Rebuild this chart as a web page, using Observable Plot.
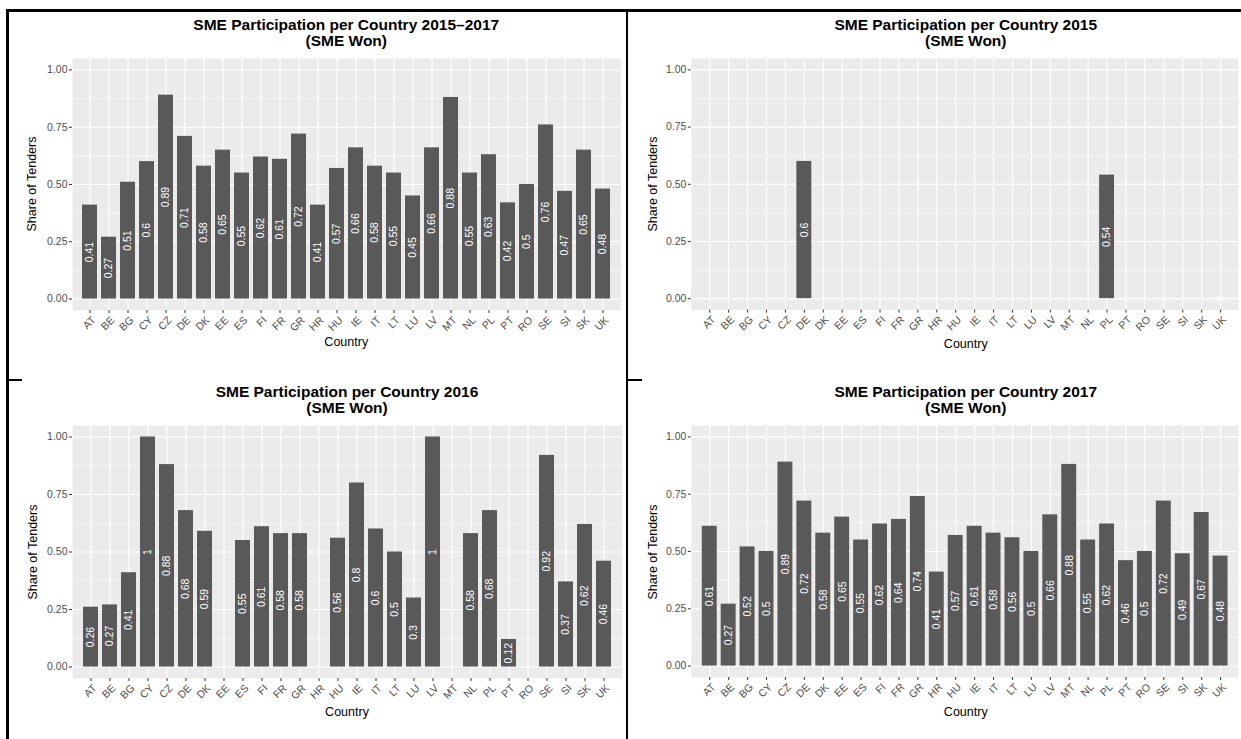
<!DOCTYPE html>
<html>
<head>
<meta charset="utf-8">
<script src="https://cdn.jsdelivr.net/npm/d3@7"></script>
<script src="https://cdn.jsdelivr.net/npm/@observablehq/plot@0.6"></script>
<style>
html, body { margin: 0; padding: 0; background: #fff; }
#root { position: relative; width: 1241px; height: 739px; overflow: hidden;
  font-family: "Liberation Sans", Arial, Helvetica, sans-serif; }
.title { position: absolute; width: 600px; font-weight: bold; font-size: 15.5px; line-height: 16px;
  text-align: center; color: #000; white-space: nowrap; }
.xt { position: absolute; width: 200px; font-size: 12.5px; line-height: 14px; text-align: center; color: #000; white-space: nowrap; }
.yt { position: absolute; width: 200px; height: 14px; font-size: 12.5px; line-height: 14px; text-align: center;
  color: #000; white-space: nowrap; transform: rotate(-90deg); transform-origin: 50% 50%; }
.ln { position: absolute; background: #000; }
.pan { position: absolute; }
</style>
</head>
<body>
<div id="root"></div>
<script>
// ---------------- data ----------------
const countries = ["AT","BE","BG","CY","CZ","DE","DK","EE","ES","FI","FR","GR","HR","HU","IE","IT","LT","LU","LV","MT","NL","PL","PT","RO","SE","SI","SK","UK"];

const share2015_2017 = [0.41,0.27,0.51,0.60,0.89,0.71,0.58,0.65,0.55,0.62,0.61,0.72,0.41,0.57,0.66,0.58,0.55,0.45,0.66,0.88,0.55,0.63,0.42,0.50,0.76,0.47,0.65,0.48];
const share2015 = [null,null,null,null,null,0.60,null,null,null,null,null,null,null,null,null,null,null,null,null,null,null,0.54,null,null,null,null,null,0];
const share2016 = [0.26,0.27,0.41,1,0.88,0.68,0.59,null,0.55,0.61,0.58,0.58,null,0.56,0.80,0.60,0.50,0.30,1,null,0.58,0.68,0.12,null,0.92,0.37,0.62,0.46];
const share2017 = [0.61,0.27,0.52,0.50,0.89,0.72,0.58,0.65,0.55,0.62,0.64,0.74,0.41,0.57,0.61,0.58,0.56,0.50,0.66,0.88,0.55,0.62,0.46,0.50,0.72,0.49,0.67,0.48];

const titles = [
  ["SME Participation per Country 2015\u20132017", "(SME Won)"],
  ["SME Participation per Country 2015", "(SME Won)"],
  ["SME Participation per Country 2016", "(SME Won)"],
  ["SME Participation per Country 2017", "(SME Won)"]
];
const xTitle = "Country";
const yTitle = "Share of Tenders";
const yTicks = [0, 0.25, 0.5, 0.75, 1];
const yMinor = [0.125, 0.375, 0.625, 0.875];

// ---------------- layout ----------------
const root = document.getElementById("root");
const panels = [
  {t: titles[0], values: share2015_2017, gx0: 72,  gx1: 620.5,  gy0: 57.5,  gy1: 309.5, t1: 30.5, xLabY: 343,   yLabX: 32},
  {t: titles[1], values: share2015,      gx0: 691, gx1: 1240.5, gy0: 57.8,  gy1: 310.5, t1: 30,   xLabY: 345,   yLabX: 653},
  {t: titles[2], values: share2016,      gx0: 72,  gx1: 622,    gy0: 425.2, gy1: 678.2, t1: 397,  xLabY: 712.5, yLabX: 33},
  {t: titles[3], values: share2017,      gx0: 691, gx1: 1240.5, gy0: 425.2, gy1: 678.3, t1: 397,  xLabY: 712.5, yLabX: 653}
];

function fmt(v) { return String(+v.toFixed(2)); }

function addDiv(cls, text, styles) {
  const d = document.createElement("div");
  d.className = cls;
  if (text != null) d.textContent = text;
  Object.assign(d.style, styles);
  root.appendChild(d);
  return d;
}

const ml = 45, mr = 3, mt = 8, mb = 40;
const FONT = "Liberation Sans, Arial, Helvetica, sans-serif";

panels.forEach(p => {
  const rows = countries.map((c, i) => ({country: c, value: p.values[i]})).filter(d => d.value != null);
  const W = p.gx1 - p.gx0, H = p.gy1 - p.gy0;
  const svg = Plot.plot({
    width: ml + W + mr,
    height: mt + H + mb,
    marginLeft: ml, marginRight: mr, marginTop: mt, marginBottom: mb,
    style: {background: "transparent", fontFamily: FONT, overflow: "visible"},
    x: {domain: countries, padding: 0.2},
    y: {domain: [-0.05, 1.05]},
    marks: [
      Plot.frame({fill: "#EBEBEB", stroke: "none"}),
      Plot.ruleY(yMinor, {stroke: "#fff", strokeWidth: 0.55}),
      Plot.ruleY(yTicks, {stroke: "#fff", strokeWidth: 1.1}),
      Plot.ruleX(countries, {stroke: "#fff", strokeWidth: 1.1}),
      Plot.barY(rows, {x: "country", y1: 0, y2: "value", fill: "#595959"}),
      Plot.text(rows, {x: "country", y: d => d.value / 2, text: d => fmt(d.value), rotate: -90,
        fill: "#fff", fontSize: 10.5, textAnchor: "middle", lineAnchor: "middle"}),
      Plot.axisY({ticks: yTicks, tickFormat: d3.format(".2f"), tickSize: 3, tickPadding: 2,
        fontSize: 10.5, fill: "#4D4D4D", stroke: "#333", label: null}),
      Plot.axisX({tickSize: 3, tickFormat: () => "", stroke: "#333", label: null}),
      Plot.text(countries, {x: d => d, frameAnchor: "bottom", dy: 5, dx: 1, rotate: -45,
        textAnchor: "end", lineAnchor: "top", fontSize: 10.5, fill: "#4D4D4D"})
    ]
  });
  const wrap = document.createElement("div");
  wrap.className = "pan";
  wrap.style.left = (p.gx0 - ml) + "px";
  wrap.style.top = (p.gy0 - mt) + "px";
  wrap.appendChild(svg);
  root.appendChild(wrap);

  const cx = (p.gx0 + p.gx1) / 2;
  const cy = (p.gy0 + p.gy1) / 2;
  const tdiv = addDiv("title", null, {left: (cx - 300) + "px", top: (p.t1 - 13.5) + "px"});
  p.t.forEach(line => { const s = document.createElement("div"); s.textContent = line; tdiv.appendChild(s); });
  addDiv("xt", xTitle, {left: (cx - 100) + "px", top: (p.xLabY - 7.6) + "px"});
  addDiv("yt", yTitle, {left: (p.yLabX - 100) + "px", top: (cy - 7) + "px"});
});

// frame lines of the pasted layout
addDiv("ln", null, {left: "6px", top: "9px", width: "1235px", height: "3px"});
addDiv("ln", null, {left: "6px", top: "9px", width: "2.5px", height: "730px"});
addDiv("ln", null, {left: "626px", top: "9px", width: "2px", height: "730px"});
addDiv("ln", null, {left: "6px", top: "379px", width: "16px", height: "2px"});
addDiv("ln", null, {left: "626px", top: "379px", width: "16px", height: "2px"});
</script>
</body>
</html>
